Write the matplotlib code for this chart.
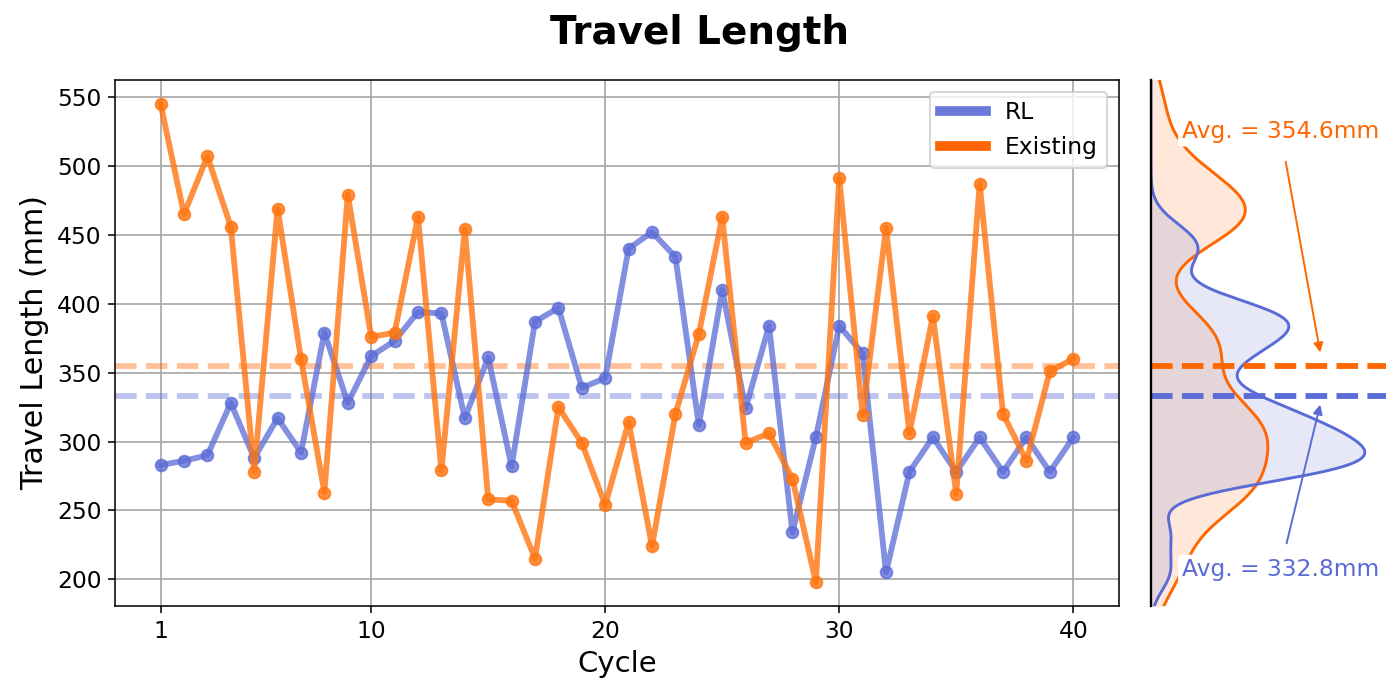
import numpy as np
import matplotlib
matplotlib.use("Agg")
import matplotlib.pyplot as plt
from matplotlib.lines import Line2D

# datos
ciclos = list(range(1, 41))
rl = [283, 286, 290, 328, 288, 317, 292, 379, 328, 362,
      373, 394, 393, 317, 361, 282, 387, 397, 339, 346,
      440, 452, 434, 312, 410, 324, 384, 234, 303, 384,
      364, 205, 278, 303, 278, 303, 278, 303, 278, 303]
existente = [545, 465, 507, 456, 278, 469, 360, 263, 479, 376,
             379, 463, 279, 454, 258, 257, 215, 325, 299, 254,
             314, 224, 320, 378, 463, 299, 306, 273, 198, 491,
             319, 455, 306, 391, 262, 487, 320, 286, 351, 360]
xticks = [1, 10, 20, 30, 40]

AZUL = "#5a6bd6"
NARANJA = "#ff6600"


def kde(valores, malla, factor=1.0):
    """KDE gaussiana simple (regla de Scott)"""
    v = np.asarray(valores, dtype=float)
    bw = v.std(ddof=1) * len(v) ** (-1 / 5) * factor
    z = (malla[:, None] - v[None, :]) / bw
    return np.exp(-0.5 * z ** 2).sum(axis=1) / (len(v) * bw * np.sqrt(2 * np.pi))


fig = plt.figure(figsize=(10, 5), dpi=140)
ax = fig.add_axes([0.0821, 0.1343, 0.7171, 0.7514])
ax2 = fig.add_axes([0.8221, 0.1343, 0.1679, 0.7514], sharey=ax)

media_rl = np.mean(rl)
media_ex = np.mean(existente)

# lineas de promedio
ax.axhline(media_ex, color=NARANJA, ls="--", lw=3, alpha=0.4)
ax.axhline(media_rl, color=AZUL, ls="--", lw=3, alpha=0.4)

ax.plot(ciclos, rl, "-o", color=AZUL, lw=3, ms=6, alpha=0.75)
ax.plot(ciclos, existente, "-o", color="#ff7510", lw=3, ms=6, alpha=0.8)

ax.set_xticks(xticks)
ax.grid(True, color="#aaaaaa", lw=0.9)
ax.set_axisbelow(True)
ax.set_xlabel("Cycle", fontsize=15)
ax.set_ylabel("Travel Length (mm)", fontsize=15.5)
ax.tick_params(labelsize=12)

handles = [Line2D([0], [0], color=AZUL, lw=5, alpha=0.9),
           Line2D([0], [0], color=NARANJA, lw=5)]
ax.legend(handles, ["RL", "Existing"], loc="upper right", fontsize=12)

fig.suptitle("Travel Length", fontsize=20, fontweight="bold")

# distribuciones a la derecha
ylo, yhi = ax.get_ylim()
malla = np.linspace(ylo - 20, yhi + 20, 600)
d_ex = kde(existente, malla, 0.5)
d_rl = kde(rl, malla, 0.5)
ax2.fill_betweenx(malla, 0, d_ex, color=NARANJA, alpha=0.15, lw=0)
ax2.plot(d_ex, malla, color=NARANJA, lw=1.5)
ax2.fill_betweenx(malla, 0, d_rl, color=AZUL, alpha=0.15, lw=0)
ax2.plot(d_rl, malla, color=AZUL, lw=1.5)

ax2.axhline(media_ex, color=NARANJA, ls="--", lw=3)
ax2.axhline(media_rl, color=AZUL, ls="--", lw=3)
ax2.set_xlim(0, d_rl.max() / 0.91)
ax2.set_ylim(ylo, yhi)

for lado in ["top", "right", "bottom"]:
    ax2.spines[lado].set_visible(False)
ax2.spines["left"].set_linewidth(1.2)
ax2.set_xticks([])
ax2.tick_params(left=False, labelleft=False)

caja = dict(boxstyle="round,pad=0.15", fc="white", ec="none")
ax2.annotate(f"Avg. = {media_ex:.1f}mm", xy=(0.72, media_ex + 10),
             xycoords=("axes fraction", "data"), xytext=(0.55, 525),
             textcoords=("axes fraction", "data"), ha="center", va="center",
             color=NARANJA, fontsize=12, bbox=caja,
             arrowprops=dict(arrowstyle="-|>", color=NARANJA, lw=1,
                             mutation_scale=10, shrinkA=8, shrinkB=0))
ax2.annotate(f"Avg. = {media_rl:.1f}mm", xy=(0.72, media_rl - 6),
             xycoords=("axes fraction", "data"), xytext=(0.55, 207),
             textcoords=("axes fraction", "data"), ha="center", va="center",
             color=AZUL, fontsize=12, bbox=caja,
             arrowprops=dict(arrowstyle="-|>", color=AZUL, lw=1,
                             mutation_scale=10, shrinkA=6, shrinkB=0))

plt.savefig("out.png", dpi=140)
